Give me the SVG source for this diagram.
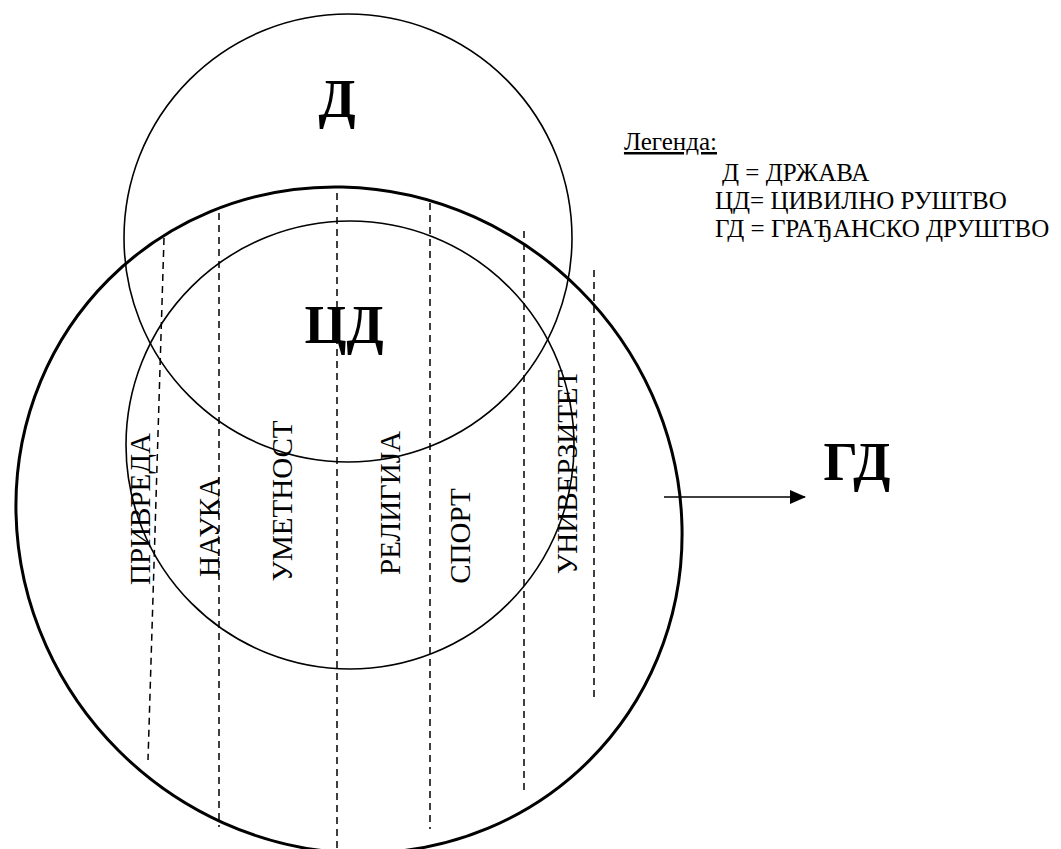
<svg xmlns="http://www.w3.org/2000/svg" width="1061" height="849" viewBox="0 0 1061 849">
<defs>
<marker id="arr" viewBox="0 0 16 14" refX="15" refY="7" markerWidth="16" markerHeight="14" markerUnits="userSpaceOnUse" orient="auto">
<path d="M0,0 L16,7 L0,14 Z" fill="#000"/>
</marker>
</defs>
<style>
.c{fill:none;stroke:#000;stroke-width:1.6}
.big{fill:none;stroke:#000;stroke-width:3}
.d{fill:none;stroke:#000;stroke-width:1.5;stroke-dasharray:7 5}
.lbl{font-family:'Liberation Serif','DejaVu Serif',serif;font-size:54px;font-weight:bold;fill:#000}
.v{font-family:'Liberation Serif','DejaVu Serif',serif;font-size:29px;font-weight:normal;fill:#000;text-anchor:middle}
.lg{font-family:'Liberation Serif','DejaVu Serif',serif;font-size:25px;font-weight:normal;fill:#000}
</style>
<rect width="1061" height="849" fill="#fff"/>
<g id="gd">
<ellipse class="big" cx="349" cy="520" rx="340" ry="326" transform="rotate(45 349 520)"/>
</g>
<g id="d">
<circle class="c" cx="348" cy="238" r="224"/>
</g>
<g id="cd">
<circle class="c" cx="350" cy="445" r="224"/>
</g>
<g id="sectors">
<line class="d" x1="164" y1="238" x2="148" y2="760"/>
<line class="d" x1="219" y1="213" x2="219" y2="827"/>
<line class="d" x1="337" y1="193" x2="337" y2="849"/>
<line class="d" x1="430" y1="203" x2="430" y2="829"/>
<line class="d" x1="524" y1="231" x2="524" y2="791"/>
<line class="d" x1="594" y1="270" x2="594" y2="700"/>
</g>
<g id="labels">
<text class="lbl" x="337" y="117" text-anchor="middle">Д</text>
<text class="lbl" x="344" y="343" text-anchor="middle">ЦД</text>
<text class="lbl" x="857" y="480" text-anchor="middle">ГД</text>
</g>
<g id="sector-labels">
<text class="v" transform="translate(150 509) rotate(-90)">ПРИВРЕДА</text>
<text class="v" transform="translate(219 527) rotate(-90)">НАУКА</text>
<text class="v" transform="translate(292 501) rotate(-90)">УМЕТНОСТ</text>
<text class="v" transform="translate(400 503) rotate(-90)">РЕЛИГИЈА</text>
<text class="v" transform="translate(470 536) rotate(-90)">СПОРТ</text>
<text class="v" transform="translate(577 472) rotate(-90)">УНИВЕРЗИТЕТ</text>
</g>
<g id="connectors">
<line x1="664" y1="497" x2="805" y2="497" stroke="#000" stroke-width="1.5" marker-end="url(#arr)"/>
</g>
<g id="legend">
<text class="lg" x="717" y="150" text-anchor="end" text-decoration="underline">Легенда:</text>
<text class="lg" x="722" y="181">Д = ДРЖАВА</text>
<text class="lg" x="715" y="209">ЦД= ЦИВИЛНО РУШТВО</text>
<text class="lg" x="715" y="237">ГД = ГРАЂАНСКО ДРУШТВО</text>
</g>
</svg>
